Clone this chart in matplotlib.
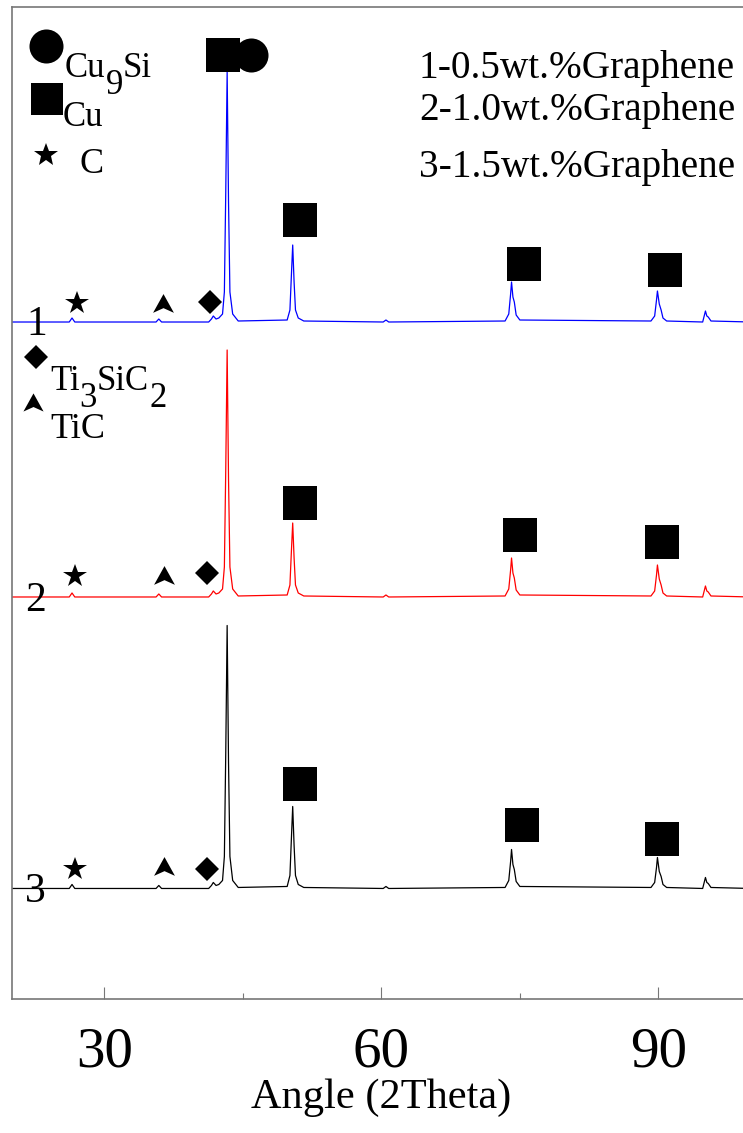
import numpy as np
import matplotlib
matplotlib.use("Agg")
import matplotlib.pyplot as plt
from matplotlib.path import Path

plt.rcParams['font.family'] = ['Liberation Serif', 'DejaVu Serif']

# 2Theta grid (deg) shared by all three patterns
angle = [20, 26.2, 26.5, 26.8, 35.6, 35.9, 36.2, 41.3, 41.6, 41.8, 42.1, 42.4,
         42.8, 43.0, 43.15, 43.3, 43.45, 43.6, 43.9, 44.5, 49.8, 50.1, 50.25,
         50.4, 50.55, 50.7, 51.0, 51.6, 60.2, 60.5, 60.8, 73.4, 73.8, 74.0,
         74.1, 74.25, 74.4, 74.6, 75.0, 89.2, 89.6, 89.8, 89.9, 90.1, 90.3,
         90.5, 90.9, 94.8, 95.1, 95.25, 95.4, 95.7, 100]

# intensities (a.u., above each baseline)
int_05 = [0, 0, 4, 0, 0, 3, 0, 0, 3, 6, 3, 4,
          8, 30, 130, 250, 120, 30, 8, 1, 2, 12, 45,
          77, 40, 12, 4, 1, 0, 2, 0, 1, 8, 28,
          40, 25, 20, 7, 2, 1, 6, 22, 31, 18, 12,
          4, 1, 0, 11, 6, 5, 1, 0]
int_10 = [0, 0, 4, 0, 0, 3, 0, 0, 3, 6, 3, 4,
          8, 30, 128, 247, 118, 30, 8, 1, 2, 12, 44,
          74, 39, 12, 4, 1, 0, 2, 0, 1, 8, 27,
          39, 24, 19, 7, 2, 1, 6, 22, 32, 18, 12,
          4, 1, 0, 11, 6, 5, 1, 0]
int_15 = [0, 0, 4, 0, 0, 3, 0, 0, 3, 6, 3, 4,
          8, 32, 136, 263, 126, 32, 8, 1, 2, 13, 48,
          82, 43, 13, 4, 1, 0, 2, 0, 1, 8, 27,
          39, 24, 19, 7, 2, 1, 6, 21, 31, 17, 12,
          4, 1, 0, 11, 6, 5, 1, 0]

offsets = [566.5, 291.5, 0]
colors = ['#0000ff', '#ff0000', '#000000']
curve_labels = ['1', '2', '3']
legend_lines = ['1-0.5wt.%Graphene', '2-1.0wt.%Graphene', '3-1.5wt.%Graphene']

# phase marker positions (angle, a.u.)
cu_x = [42.80, 51.19, 75.40, 90.72, 51.19, 74.97, 90.40, 51.19, 75.18, 90.40]
cu_y = [833.5, 668.5, 624.5, 618.5, 385, 353, 346, 104, 63, 49]
cu9si_x = [45.88]
cu9si_y = [833.5]
c_x = [27.0, 26.79, 26.77]
c_y = [586, 312.5, 19.5]
tic_x = [36.30, 36.43, 36.46]
tic_y = [584.5, 312, 21]
ti3sic2_x = [41.39, 41.17, 41.17]
ti3sic2_y = [587, 315, 19.5]

arrow = Path([(0, 1), (1, -0.8), (0, -0.35), (-1, -0.8), (0, 1)],
             [Path.MOVETO, Path.LINETO, Path.LINETO, Path.LINETO, Path.CLOSEPOLY])

fig = plt.figure(figsize=(7.43, 11.33), dpi=100)
ax = fig.add_axes([0.01615, 0.1183, 0.9942, 0.8755])

for ints, off, col in zip([int_05, int_10, int_15], offsets, colors):
    ax.plot(angle, np.array(ints) + off, color=col, lw=0.9)

# markers on peaks
ax.plot(cu9si_x, cu9si_y, 'o', ms=24.5, color='k', mew=0, zorder=3)
ax.plot(cu_x, cu_y, 's', ms=25, color='k', mew=0, zorder=4)
ax.plot(c_x, c_y, '*', ms=17.5, color='k', mew=0)
ax.plot(tic_x, tic_y, marker=arrow, ls='none', ms=15, color='k', mew=0)
ax.plot(ti3sic2_x, ti3sic2_y, 'D', ms=12.7, color='k', mew=0)

# key markers (top left)
ax.plot([23.68], [843], 'o', ms=24.5, color='k', mew=0)
ax.plot([23.79], [789.5], 's', ms=23, color='k', mew=0)
ax.plot([23.68], [734], '*', ms=18, color='k', mew=0)
ax.plot([22.55], [531.5], 'D', ms=12.7, color='k', mew=0)
ax.plot([22.27], [486], marker=arrow, ls='none', ms=14.5, color='k', mew=0)


def chem_label(x, y, parts, size):
    # parts: list of (text, is_subscript); subscripts stay full size, dropped
    t = ax.text(x, y, parts[0][0], fontsize=size, va='baseline')
    low = parts[0][1]
    for txt, sub in parts[1:]:
        dy = 0
        if sub and not low:
            dy = -12
        elif low and not sub:
            dy = 12
        t = ax.annotate(txt, xy=(1, 0), xycoords=t, xytext=(0, dy),
                        textcoords='offset points', va='bottom', fontsize=size)
        low = sub


chem_label(25.74, 811.5, [('Cu', False), ('9', True), ('Si', False)], 25)
ax.text(25.52, 762.5, 'Cu', fontsize=25, va='baseline')
ax.text(27.36, 715.5, 'C', fontsize=26, va='baseline')
chem_label(24.12, 498.5, [('Ti', False), ('3', True), ('SiC', False), ('2', True)], 25)
ax.text(24.12, 450.5, 'TiC', fontsize=26, va='baseline')

for lab, x0, y0 in zip(curve_labels, [21.6, 21.45, 21.35], [553.5, 277.5, -13.5]):
    ax.text(x0, y0, lab, fontsize=30, va='baseline')

for line, y0 in zip(legend_lines, [810.5, 768.5, 711.5]):
    ax.text(98.31, y0, line, fontsize=28.3, ha='right', va='baseline')

ax.set_xlim(20, 100)
ax.set_ylim(-110.5, 881.5)
ax.set_xticks([30, 60, 90])
ax.set_xticks([45, 75], minor=True)
ax.set_yticks([])
ax.tick_params(axis='x', which='major', direction='in', length=8.6, width=0.8,
               color='#777777', labelsize=41, pad=20)
ax.tick_params(axis='x', which='minor', direction='in', length=4.3, width=0.8,
               color='#777777')
for sp in ax.spines.values():
    sp.set_color('#777777')
    sp.set_linewidth(1.2)
ax.set_xlabel('Angle (2Theta)', fontsize=30.5, labelpad=0)

fig.savefig('out.png', dpi=100)
